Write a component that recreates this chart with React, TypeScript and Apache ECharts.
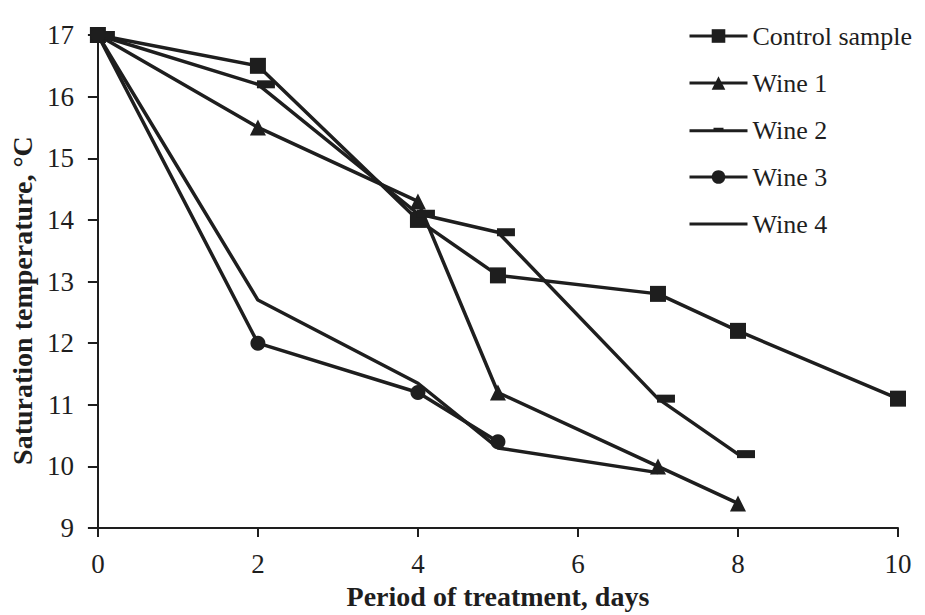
import React, { useEffect, useRef } from "react";
import * as echarts from "echarts";

const days = [0, 2, 4, 5, 7, 8, 10];
const controlSample = [17, 16.5, 14.0, 13.1, 12.8, 12.2, 11.1];
const wine1 = [17, 15.5, 14.3, 11.2, 10.0, 9.4];
const wine2 = [17, 16.2, 14.1, 13.8, 11.1, 10.2];
const wine3 = [17, 12.0, 11.2, 10.4];
const wine4 = [17, 12.7, 11.35, 10.3, 9.9];

const seriesNames = ["Control sample", "Wine 1", "Wine 2", "Wine 3", "Wine 4"];
const yTicks = [9, 10, 11, 12, 13, 14, 15, 16, 17];

const FONT = "'Liberation Serif', 'Times New Roman', serif";
const INK = "#1e1e1e";

function pairs(vals: number[]) {
  return vals.map((v, i) => [days[i], v]);
}

export default function App() {
  const ref = useRef<HTMLDivElement>(null);
  useEffect(() => {
    document.body.style.margin = "0";
    const chart = echarts.init(ref.current!, null, { renderer: "svg" });
    const base = {
      type: "line" as const,
      clip: false,
      lineStyle: { color: INK, width: 3.5 },
      itemStyle: { color: INK },
    };
    chart.setOption({
      animation: false,
      backgroundColor: "#ffffff",
      grid: { left: 97, right: 27, top: 35, bottom: 77, containLabel: false },
      legend: {
        orient: "vertical",
        left: 683,
        top: 18,
        itemWidth: 58,
        itemHeight: 17,
        itemGap: 21,
        lineStyle: { width: 3 },
        textStyle: { fontFamily: FONT, fontSize: 26, lineHeight: 26, color: INK, padding: [0, 0, 0, 0] },
        data: [
          { name: seriesNames[0] },
          { name: seriesNames[1] },
          { name: seriesNames[2], icon: "path://M0,1.5L58,1.5L58,4.5L0,4.5Z M24,0L34,0L34,4.5L24,4.5Z" },
          { name: seriesNames[3] },
          { name: seriesNames[4], icon: "path://M0,0L58,0L58,3L0,3Z" },
        ],
      },
      xAxis: {
        type: "value",
        min: 0,
        max: 10,
        interval: 2,
        name: "Period of treatment, days",
        nameLocation: "middle",
        nameGap: 46,
        nameTextStyle: { fontFamily: FONT, fontSize: 28, fontWeight: "bold", color: INK },
        axisLine: { show: true, lineStyle: { color: INK, width: 2 } },
        axisTick: { show: true, length: 9, lineStyle: { color: INK, width: 2 } },
        axisLabel: { fontFamily: FONT, fontSize: 27, color: INK, margin: 22 },
        splitLine: { show: false },
      },
      yAxis: {
        type: "value",
        min: yTicks[0],
        max: yTicks[yTicks.length - 1],
        interval: 1,
        name: "Saturation temperature, °C",
        nameLocation: "middle",
        nameGap: 57,
        nameTextStyle: {
          fontFamily: FONT,
          fontSize: 28,
          fontWeight: "bold",
          color: INK,
          padding: [0, 38, 0, 0],
        },
        axisLine: { show: true, lineStyle: { color: INK, width: 2 } },
        axisTick: { show: true, length: 10, lineStyle: { color: INK, width: 2 } },
        axisLabel: { fontFamily: FONT, fontSize: 27, color: INK, margin: 24 },
        splitLine: { show: false },
      },
      series: [
        { ...base, name: seriesNames[0], data: pairs(controlSample), symbol: "rect", symbolSize: 16 },
        { ...base, name: seriesNames[1], data: pairs(wine1), symbol: "triangle", symbolSize: 16 },
        {
          ...base,
          name: seriesNames[2],
          data: pairs(wine2),
          symbol: "rect",
          symbolSize: [18, 8],
          symbolOffset: [8, 0],
        },
        { ...base, name: seriesNames[3], data: pairs(wine3), symbol: "circle", symbolSize: 15 },
        { ...base, name: seriesNames[4], data: pairs(wine4), symbol: "none" },
      ],
    });
    return () => chart.dispose();
  }, []);
  return <div ref={ref} style={{ width: 925, height: 615 }} />;
}
